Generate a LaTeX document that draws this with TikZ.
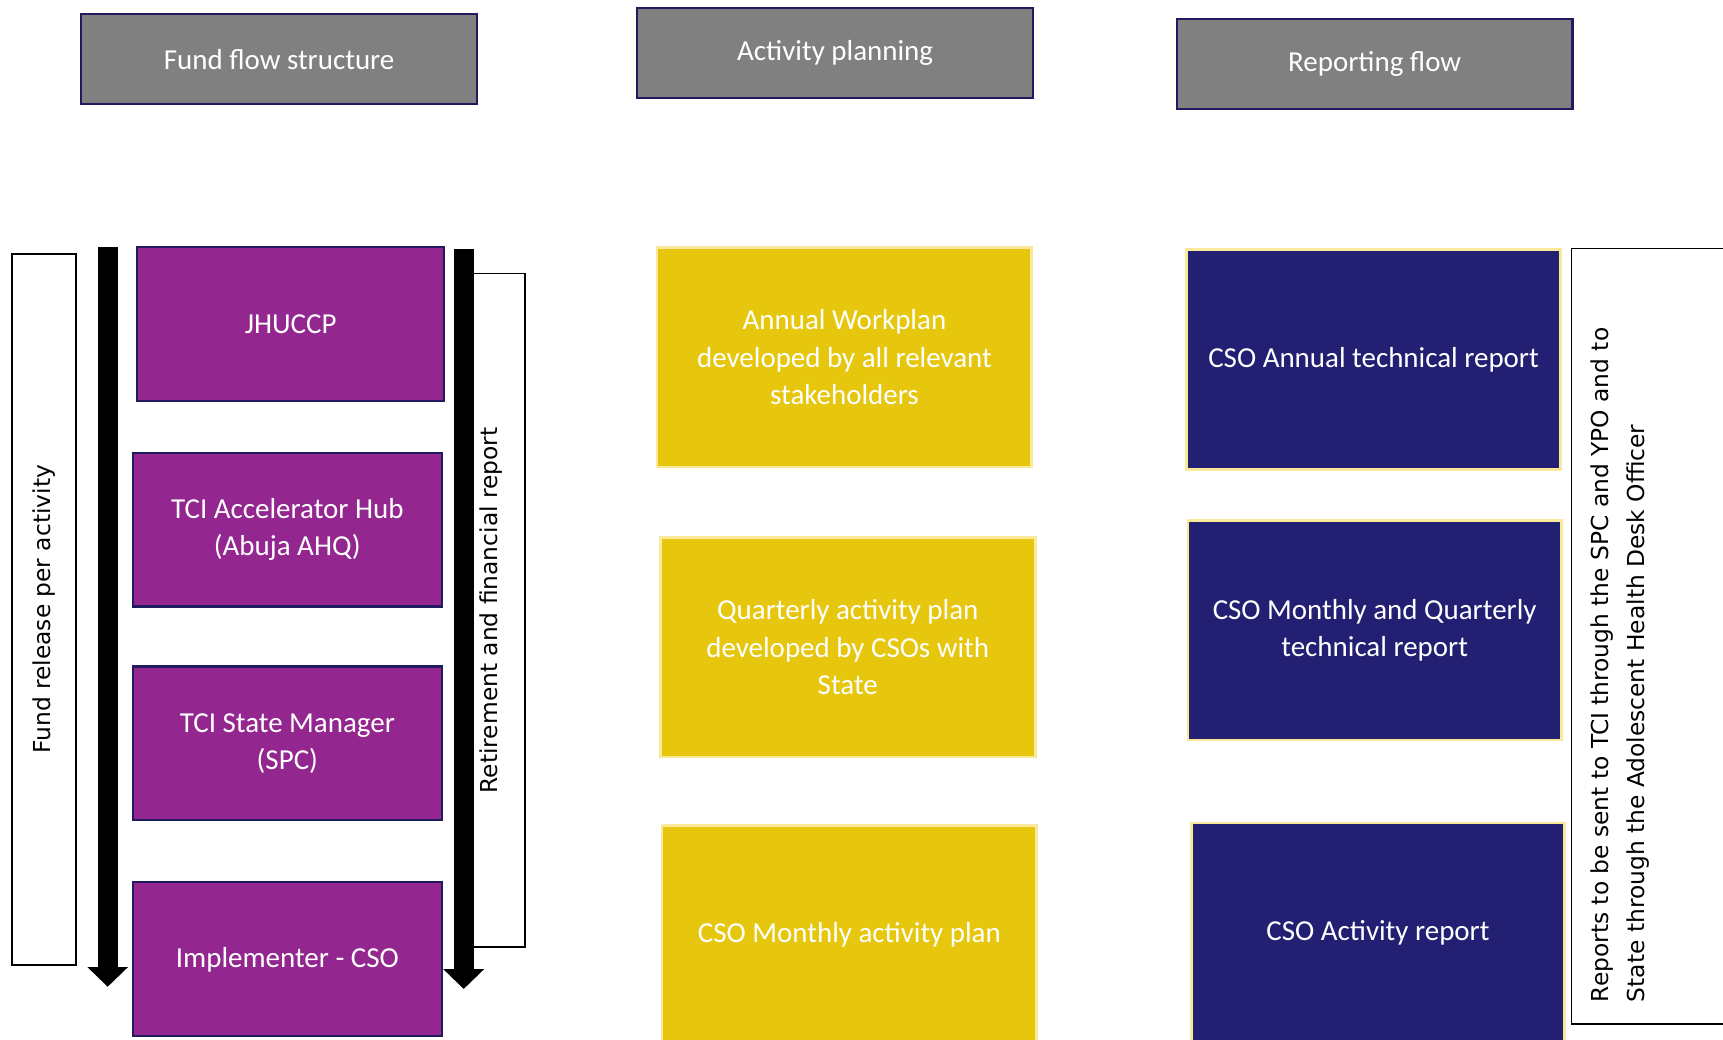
\documentclass[tikz,border=0pt]{standalone}
\usepackage{fontspec}
\setmainfont{Carlito}
\newfontfamily\notefont{DejaVu Sans}
\usetikzlibrary{
    positioning,
    arrows.meta
}
\definecolor{headgray}{HTML}{808080}
\definecolor{navyline}{HTML}{1F1B5E}
\definecolor{tcipurple}{HTML}{93278F}
\definecolor{planyellow}{HTML}{E6C70E}
\definecolor{paleyellow}{HTML}{FAE99A}
\definecolor{reportnavy}{HTML}{231F72}
\newcommand{\pxu}{0.022cm}
\tikzset{%
    box/.style={%
        rectangle,
        inner sep = 0pt,
        outer sep = 0pt,
        align=center,
        text=white,
        font=\fontsize{16.5}{21.2}\selectfont
    },
    column head/.style={%
        box,
        fill=headgray,
        draw=navyline,
        line width=2*\pxu,
        minimum width=360*\pxu,
        minimum height=82*\pxu
    },
    funder/.style={%
        box,
        fill=tcipurple,
        draw=navyline,
        line width=2*\pxu,
        minimum width=281*\pxu,
        minimum height=140*\pxu
    },
    plan/.style={%
        box,
        fill=planyellow,
        draw=paleyellow,
        line width=2.5*\pxu,
        minimum width=341*\pxu,
        minimum height=200*\pxu
    },
    report/.style={%
        box,
        fill=reportnavy,
        draw=paleyellow,
        line width=2.5*\pxu,
        minimum width=340*\pxu,
        minimum height=200*\pxu
    },
    frame/.style={%
        rectangle,
        draw=black,
        line width=1.5*\pxu,
        inner sep = 0pt,
        outer sep = 0pt
    },
    note text/.style={%
        rotate=90,
        font=\notefont\fontsize{13.3}{20.6}\selectfont
    },
    note/.style={%
        frame,
        note text
    },
    flow arrow/.style={%
        line width=18*\pxu,
        black,
        -{Triangle[length=0.396cm, width=0.792cm]}
    },
}

\begin{document}
\begin{tikzpicture}[x=\pxu, y=-\pxu]
    \path[fill=white] (0,0) rectangle (1568,946);
    \clip (0,0) rectangle (1568,946);

    \node[column head] (fundhead) at (254,54) {Fund flow structure};
    \node[column head] (planhead) at (760,48) {Activity planning};
    \node[column head] (reporthead) at (1251,58) {Reporting flow};

    % fund flow column
    \node[note, minimum width=647*\pxu, minimum height=58*\pxu] (fundrelease) at (40,554.5) {Fund release per activity};
    \node[note, minimum width=613*\pxu, minimum height=47*\pxu, text depth=11.9pt] (retirement) at (454.5,555.5) {Retirement and financial report};

    \node[funder, minimum width=279*\pxu] (jhuccp) at (264.5,295) {JHUCCP};
    \node[funder] (hub) at (261.5,482) {TCI Accelerator Hub\\(Abuja AHQ)};
    \node[funder] (statemgr) at (261.5,676.5) {TCI State Manager\\(SPC)};
    \node[funder] (implementer) at (261.5,873) {Implementer - CSO};

    \coordinate (releasetop) at (98,225);
    \coordinate (releaseend) at (98,898);
    \coordinate (retiretop) at (422,227);
    \coordinate (retireend) at (422,900);
    \draw[flow arrow] (releasetop) -- (releaseend);
    \draw[flow arrow] (retiretop) -- (retireend);

    % activity planning column
    \node[plan] (annualplan) at (768.5,325) {Annual Workplan\\developed by all relevant\\stakeholders};
    \node[plan] (quarterplan) at (771.5,589) {Quarterly activity plan\\developed by CSOs with\\State};
    \node[plan] (monthplan) at (773,851) {CSO Monthly activity plan};

    % reporting column
    \node[report] (annualrep) at (1250,327) {CSO Annual technical report};
    \node[report] (monthrep) at (1251,573.5) {CSO Monthly and Quarterly\\technical report};
    \node[report] (activityrep) at (1254,849) {CSO Activity report};

    \node[frame, minimum width=210*\pxu, minimum height=706*\pxu] (reportsbox) at (1535,579) {};
    \node[note text, align=left] (reportsnote) at (1474.5,605) {Reports to be sent to TCI through the SPC and YPO and to\\State through the Adolescent Health Desk Officer};
\end{tikzpicture}
\end{document}
